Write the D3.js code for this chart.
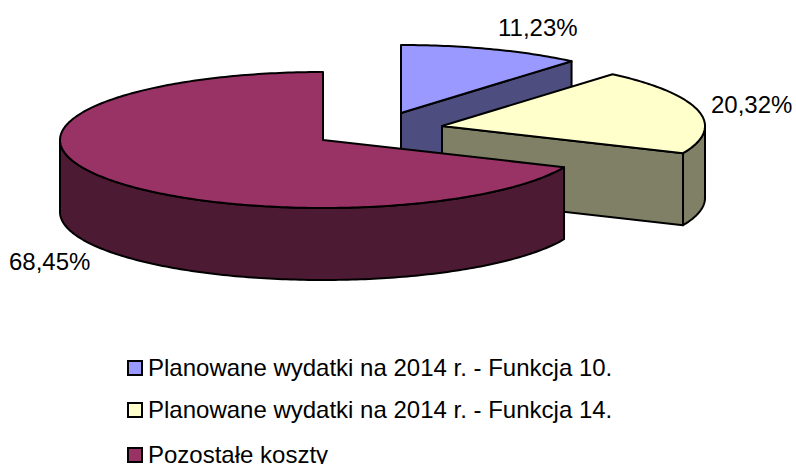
<!DOCTYPE html>
<html>
<head>
<meta charset="utf-8">
<script src="https://cdn.jsdelivr.net/npm/d3@7"></script>
<style>
html, body { margin: 0; padding: 0; background: #fff; overflow: hidden; }
text { font-family: "Liberation Sans", Arial, sans-serif; font-size: 24px; fill: #000; }
</style>
</head>
<body>
<div id="the_chart"></div>
<script>
var categories = ["Planowane wydatki na 2014 r. - Funkcja 10.", "Planowane wydatki na 2014 r. - Funkcja 14.", "Pozostałe koszty"];
var values = [11.23, 20.32, 68.45];
var topColors = ["#9999ff", "#ffffcc", "#993366"];
var sideColors = ["#4d4d80", "#808066", "#4d1a33"];

var w = 796, h = 464;
var rx = 263, ry = 68, depth = 72;

// where each exploded slice has its apex
var apexX = [401, 442, 323];
var apexY = [113, 126, 140];
var labelX = [498, 711, 9];
var labelY = [36, 113, 270];
var legendY = [376, 418, 463];

var svg = d3.select("#the_chart").append("svg")
    .attr("width", w)
    .attr("height", h)
    .style("display", "block");

var xscale = d3.scaleLinear().domain([-1, 1]).range([-rx, rx]);
var yscale = d3.scaleLinear().domain([-1, 1]).range([-ry, ry]);

var pie = d3.pie().sort(null).startAngle(0).endAngle(2 * Math.PI);
var slices = pie(values);

var line = d3.line();

function rim(a, i, dy) {
    return [apexX[i] + xscale(Math.sin(a)), apexY[i] + yscale(-Math.cos(a)) + dy];
}

function arcPoints(a0, a1, i, dy) {
    var n = Math.max(2, Math.ceil(Math.abs(a1 - a0) * 60));
    return d3.range(n + 1).map(function (k) {
        return rim(a0 + (a1 - a0) * k / n, i, dy);
    });
}

function drawFace(g, pts, color) {
    g.append("path")
        .attr("d", line(pts) + "Z")
        .attr("fill", color)
        .attr("stroke", "#000")
        .attr("stroke-width", 2)
        .attr("stroke-linejoin", "round");
}

slices.forEach(function (s, i) {
    var g = svg.append("g");
    var a = s.startAngle, b = s.endAngle;
    var apex = [apexX[i], apexY[i]];

    // cut face on the clockwise end, only seen while it looks at the viewer
    if (b < Math.PI) {
        var e = rim(b, i, 0);
        drawFace(g, [apex, e, [e[0], e[1] + depth], [apex[0], apex[1] + depth]], sideColors[i]);
    }

    // outer wall, front half of the ellipse only
    var a0 = Math.max(a, Math.PI / 2), a1 = Math.min(b, 3 * Math.PI / 2);
    if (a1 > a0) {
        var wall = arcPoints(a0, a1, i, 0).concat(arcPoints(a1, a0, i, depth));
        drawFace(g, wall, sideColors[i]);
    }

    drawFace(g, [apex].concat(arcPoints(a, b, i, 0)), topColors[i]);
});

// percent labels
svg.selectAll("text.pct")
    .data(values)
    .enter().append("text")
    .attr("class", "pct")
    .attr("x", function (d, i) { return labelX[i]; })
    .attr("y", function (d, i) { return labelY[i]; })
    .text(function (d) { return d.toFixed(2).replace(".", ",") + "%"; });

// legend
var items = svg.selectAll("g.legend")
    .data(categories)
    .enter().append("g")
    .attr("class", "legend")
    .attr("transform", function (d, i) { return "translate(0," + legendY[i] + ")"; });

items.append("rect")
    .attr("x", 128)
    .attr("y", -15)
    .attr("width", 14)
    .attr("height", 14)
    .attr("fill", function (d, i) { return topColors[i]; })
    .attr("stroke", "#000")
    .attr("stroke-width", 2);

items.append("text")
    .attr("x", 148)
    .text(function (d) { return d; });
</script>
</body>
</html>
